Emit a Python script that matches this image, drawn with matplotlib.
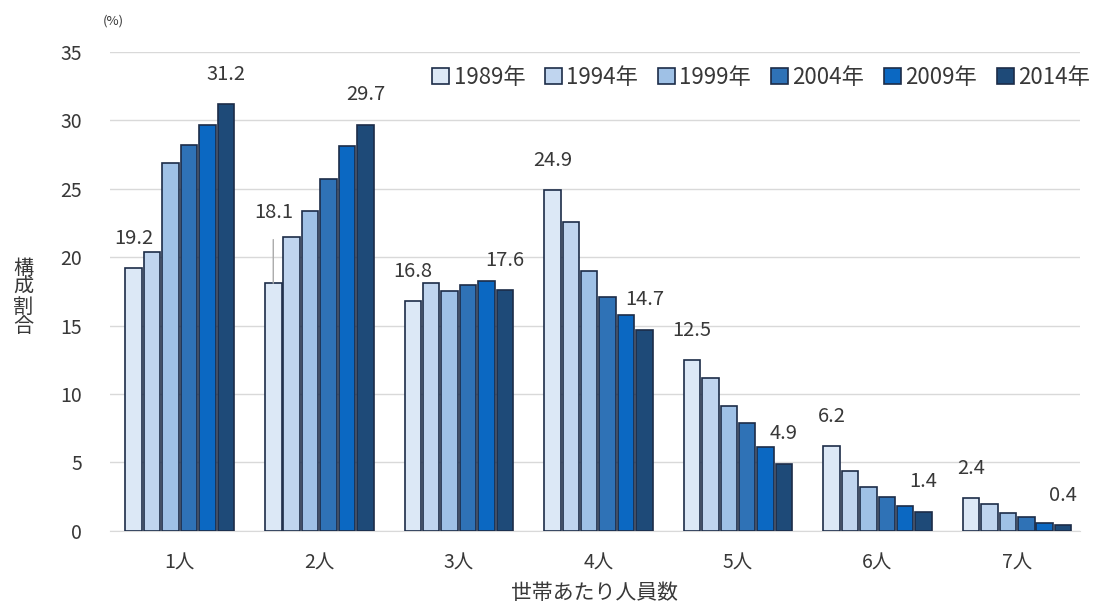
import matplotlib.pyplot as plt
import numpy as np

plt.rcParams['font.family'] = ['Noto Sans CJK JP', 'DejaVu Sans']

categories = ["1人", "2人", "3人", "4人", "5人", "6人", "7人"]
years = ["1989年", "1994年", "1999年", "2004年", "2009年", "2014年"]
v1989 = [19.2, 18.1, 16.8, 24.9, 12.5, 6.2, 2.4]
v1994 = [20.4, 21.5, 18.1, 22.6, 11.2, 4.4, 2.0]
v1999 = [26.9, 23.4, 17.5, 19.0, 9.1, 3.2, 1.3]
v2004 = [28.2, 25.7, 18.0, 17.1, 7.9, 2.5, 1.0]
v2009 = [29.7, 28.1, 18.3, 15.8, 6.1, 1.8, 0.6]
v2014 = [31.2, 29.7, 17.6, 14.7, 4.9, 1.4, 0.4]
series = [v1989, v1994, v1999, v2004, v2009, v2014]
colors = ["#dce8f6", "#c0d5ef", "#9fc1e6", "#2f72b6", "#0b68c2", "#1e4a78"]
text_c = "#383838"

fig = plt.figure(figsize=(11.11, 6.13), dpi=100)
ax = fig.add_axes([0.099, 0.134, 0.873, 0.781])

x = np.arange(len(categories))
step = 0.132
width = 0.118
for j, (vals, c) in enumerate(zip(series, colors)):
    ax.bar(x + (j - 2.5) * step, vals, width, color=c, edgecolor="#1c2c48",
           linewidth=1.2, label=years[j], zorder=3)

# value labels on first and last year
for i in range(len(categories)):
    for j, vals in [(0, v1989), (5, v2014)]:
        bx = x[i] + (j - 2.5) * step
        if i == 1 and j == 0:
            ax.annotate(f"{vals[i]}", xy=(bx, vals[i]), xytext=(0, 51),
                        textcoords="offset points", ha="center", va="center",
                        fontsize=14.5, color=text_c,
                        arrowprops=dict(arrowstyle="-", color="#aaaaaa", lw=1,
                                        shrinkA=10, shrinkB=0))
        else:
            ax.annotate(f"{vals[i]}", xy=(bx, vals[i]), xytext=(0, 21.5),
                        textcoords="offset points", ha="center", va="center",
                        fontsize=14.5, color=text_c)

ax.set_xlim(-0.5, 6.45)
ax.set_ylim(0, 35)
ax.set_yticks(range(0, 36, 5))
ax.set_xticks(x)
ax.set_xticklabels(categories)
ax.tick_params(length=0, labelsize=14, colors=text_c)
ax.tick_params(axis="x", pad=16)
ax.tick_params(axis="y", pad=20)
ax.grid(axis="y", color="#d9d9d9", lw=1, zorder=0)
for s in ["top", "right", "left"]:
    ax.spines[s].set_visible(False)
ax.spines["bottom"].set_color("#d9d9d9")

ax.set_xlabel("世帯あたり人員数", fontsize=15, color=text_c, labelpad=6)
fig.text(0.021, 0.515, "構\n成\n割\n合", fontsize=14.5, color=text_c,
         ha="center", va="center", linespacing=0.9)
fig.text(0.102, 0.965, "(%)", fontsize=9.5, color=text_c, ha="center", va="center")

fig.legend(loc="upper right", bbox_to_anchor=(0.999, 0.925), ncol=6,
           frameon=False, fontsize=16, handlelength=0.75, handleheight=0.75,
           handletextpad=0.2, columnspacing=0.9, labelcolor=text_c)

fig.savefig("out.png", dpi=100)
